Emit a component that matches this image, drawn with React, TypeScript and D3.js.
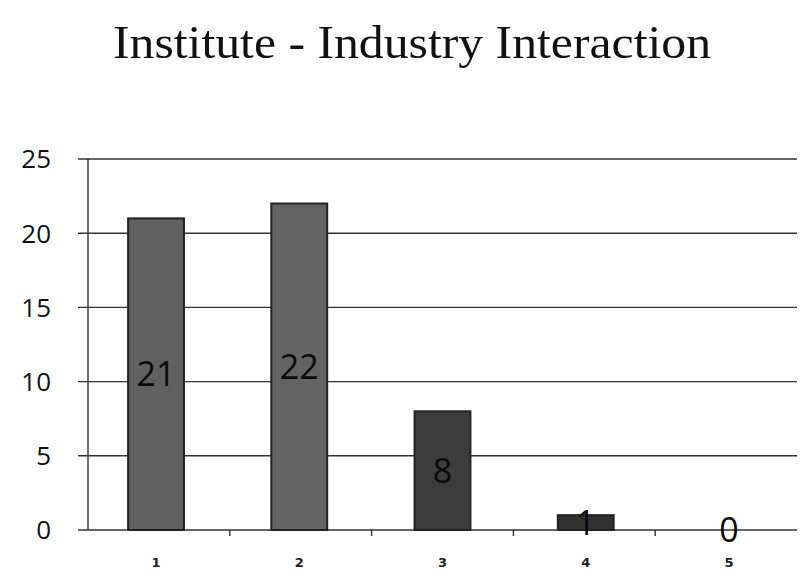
import React from 'react';
import * as d3 from 'd3';

const categories = ['1', '2', '3', '4', '5'];
const values = [21, 22, 8, 1, 0];
const yTicks = [0, 5, 10, 15, 20, 25];
const title = 'Institute - Industry Interaction';

const barFills = ['#606060', '#636363', '#3c3c3c', '#303030', '#303030'];

export default function App() {
  const width = 803;
  const height = 581;
  const margin = { top: 159, right: 6, bottom: 51, left: 88 };
  const innerW = width - margin.left - margin.right;
  const innerH = height - margin.top - margin.bottom;

  const x = d3
    .scaleBand()
    .domain(categories)
    .range([0, innerW])
    .paddingInner(0.61)
    .paddingOuter(0.28);

  const y = d3.scaleLinear().domain([0, 25]).range([innerH, 0]);

  const step = innerW / categories.length;
  const data = categories.map((c, i) => ({ c, v: values[i], fill: barFills[i] }));

  return (
    <svg
      width={width}
      height={height}
      style={{ position: 'absolute', left: 0, top: 0, background: '#fff' }}
    >
      <text
        x={412}
        y={58}
        textAnchor="middle"
        fontFamily="'Liberation Serif', 'DejaVu Serif', serif"
        fontSize={47}
        textLength={598}
        lengthAdjust="spacingAndGlyphs"
        fill="#111"
      >
        {title}
      </text>
      <g transform={`translate(${margin.left},${margin.top})`}>
        {/* gridlines */}
        {yTicks.map((t) => (
          <line
            key={t}
            x1={-10}
            x2={innerW}
            y1={y(t)}
            y2={y(t)}
            stroke="#333"
            strokeWidth={1.4}
          />
        ))}
        {/* y axis */}
        <line x1={0} x2={0} y1={0} y2={innerH} stroke="#333" strokeWidth={1.4} />
        {yTicks.map((t) => (
          <text
            key={t}
            x={-37}
            y={y(t)}
            dy="0.36em"
            textAnchor="end"
            fontFamily="'Open Sans', 'Liberation Sans', sans-serif"
            fontWeight={500}
            fontSize={26}
            fill="#111"
          >
            {t}
          </text>
        ))}
        {/* x tick marks between categories */}
        {categories.slice(1).map((c, i) => (
          <line
            key={c}
            x1={step * (i + 1)}
            x2={step * (i + 1)}
            y1={innerH}
            y2={innerH + 6}
            stroke="#333"
            strokeWidth={1.4}
          />
        ))}
        {/* bars */}
        {data.map((d) => (
          <rect
            key={d.c}
            x={x(d.c)}
            y={y(d.v)}
            width={x.bandwidth()}
            height={innerH - y(d.v)}
            fill={d.fill}
            stroke="#222"
            strokeWidth={2}
          />
        ))}
        {/* value labels */}
        {data.map((d) => (
          <text
            key={d.c}
            x={(x(d.c) || 0) + x.bandwidth() / 2}
            y={(y(d.v) + innerH) / 2}
            dy="0.36em"
            textAnchor="middle"
            fontFamily="'Open Sans', 'Liberation Sans', sans-serif"
            fontWeight={500}
            fontSize={34}
            fill="#0a0a0a"
          >
            {d.v}
          </text>
        ))}
        {/* category labels */}
        {categories.map((c) => (
          <text
            key={c}
            x={(x(c) || 0) + x.bandwidth() / 2}
            y={innerH + 37}
            textAnchor="middle"
            fontFamily="'DejaVu Sans', sans-serif"
            fontWeight="bold"
            fontSize={13}
            fill="#222"
          >
            {c}
          </text>
        ))}
      </g>
    </svg>
  );
}
